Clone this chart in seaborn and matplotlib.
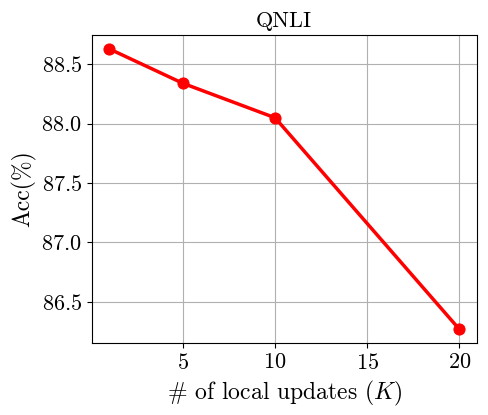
import pandas as pd
import matplotlib
matplotlib.use("Agg")
import matplotlib.pyplot as plt
import seaborn as sns

# Data
local_updates = [1, 5, 10, 20]
accuracy = [88.63, 88.34, 88.05, 86.27]

sns.set_style("ticks")
plt.rcParams["font.family"] = "serif"
plt.rcParams["font.serif"] = ["cmr10", "DejaVu Serif"]
plt.rcParams["mathtext.fontset"] = "cm"
plt.rcParams["axes.formatter.use_mathtext"] = True
plt.rcParams["text.color"] = "black"
plt.rcParams["axes.labelcolor"] = "black"
plt.rcParams["xtick.color"] = "black"
plt.rcParams["ytick.color"] = "black"

df = pd.DataFrame({"K": local_updates, "acc": accuracy})

fig, ax = plt.subplots(figsize=(4.88, 4.15), dpi=100)
sns.lineplot(data=df, x="K", y="acc", marker="o", color="red",
             linewidth=2.5, markersize=8, markeredgecolor="red", ax=ax)

ax.set_xticks([5, 10, 15, 20])
ax.set_yticks([86.5, 87.0, 87.5, 88.0, 88.5])
ax.grid(True, color="#b0b0b0", linewidth=0.8)
ax.tick_params(labelsize=16, colors="black")
for s in ax.spines.values():
    s.set_color("black")
    s.set_linewidth(0.8)

ax.set_title("QNLI", fontsize=16, color="black")
ax.set_xlabel(r"# of local updates ($K$)", fontsize=17)
ax.set_ylabel("Acc(%)", fontsize=17)

fig.subplots_adjust(left=0.188, right=0.977, top=0.916, bottom=0.173)
fig.savefig("out.png", dpi=100)
